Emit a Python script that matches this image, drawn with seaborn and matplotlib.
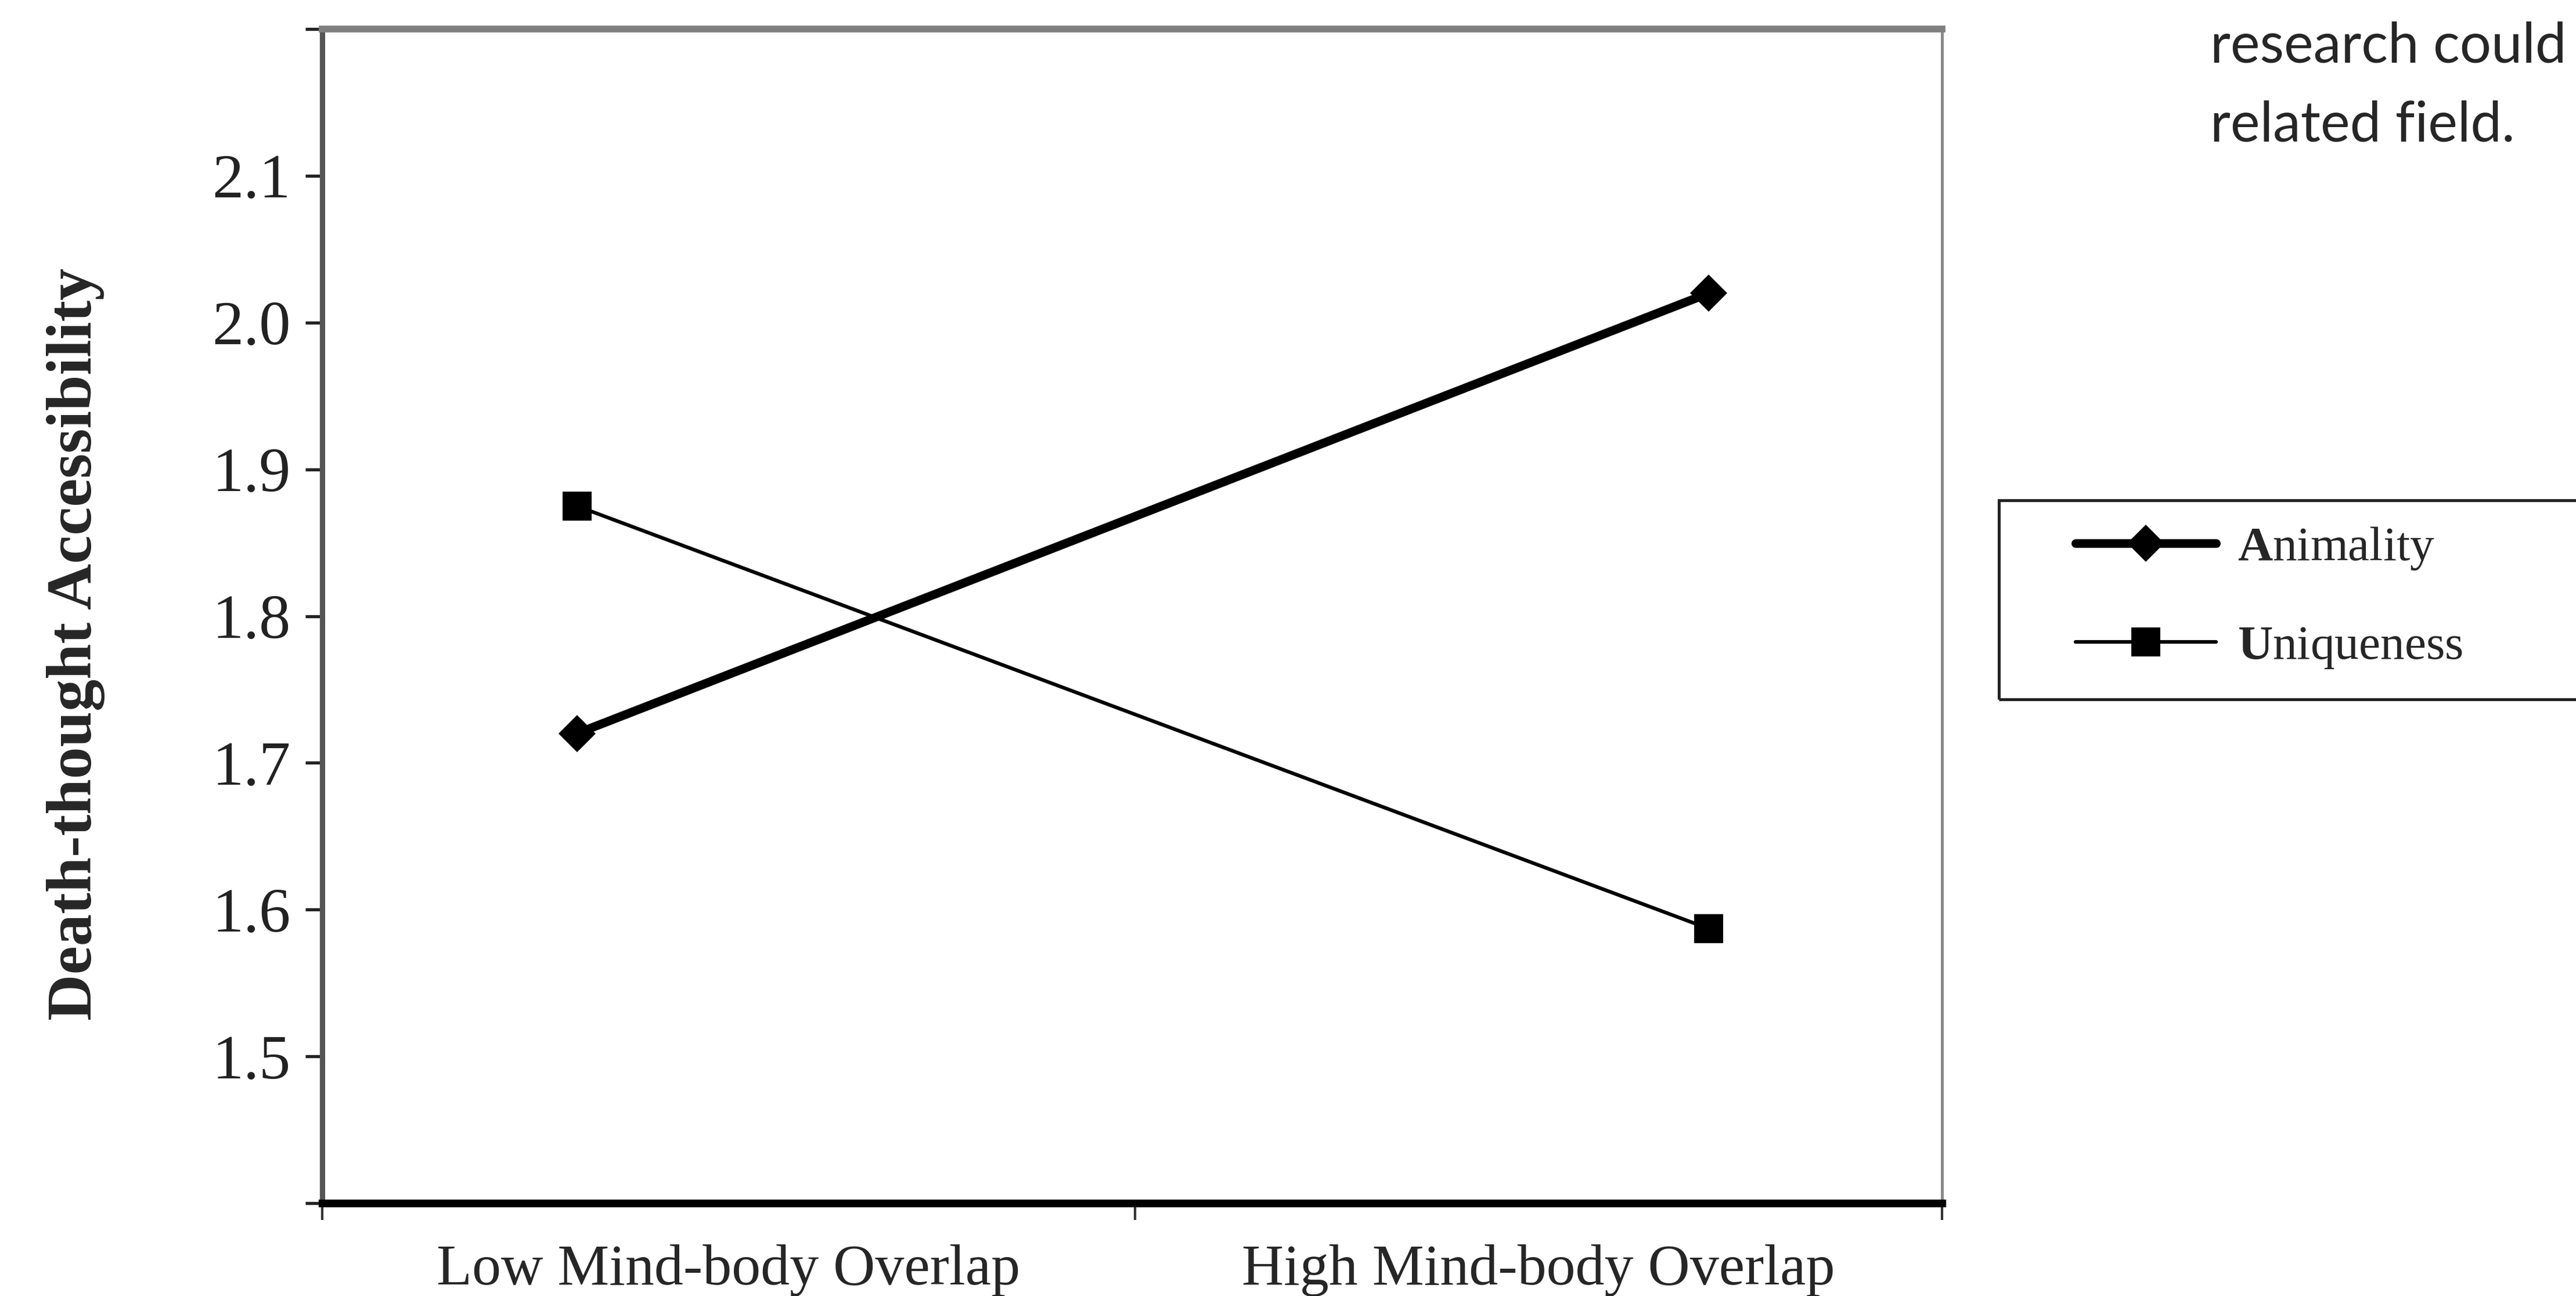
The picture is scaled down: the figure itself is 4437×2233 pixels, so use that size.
import numpy as np
import pandas as pd
import matplotlib
matplotlib.use("Agg")
import matplotlib.pyplot as plt
import matplotlib.patches as patches
import seaborn as sns

# values
conditions = ["Low Mind-body Overlap", "High Mind-body Overlap"]
animality = [1.72, 2.02]
uniqueness = [1.875, 1.587]
y_ticks = [1.4, 1.5, 1.6, 1.7, 1.8, 1.9, 2.0, 2.1, 2.2]
y_tick_labels = ["", "1.5", "1.6", "1.7", "1.8", "1.9", "2.0", "2.1", ""]
legend_labels = [r"$\mathbf{A}$nimality", r"$\mathbf{U}$niqueness"]
side_text = ["research could", "related field."]

df = pd.DataFrame({
    "pos": np.arange(len(conditions)),
    "Animality": animality,
    "Uniqueness": uniqueness,
})

sns.set_style("ticks")
plt.rcParams['font.family'] = ['Liberation Serif', 'DejaVu Serif']
plt.rcParams['mathtext.fontset'] = 'custom'
plt.rcParams['mathtext.rm'] = 'Liberation Serif'
plt.rcParams['mathtext.bf'] = 'Liberation Serif:bold'

W, H = 4437, 2233
fig = plt.figure(figsize=(W / 300, H / 300), dpi=300, facecolor='white')
ax = fig.add_axes([555 / W, 1 - 2073 / H, 2790 / W, 2023 / H])
ax.set_facecolor('white')

sns.lineplot(data=df, x="pos", y="Animality", ax=ax, color='black', lw=3.6,
             marker='D', ms=11, mec='black', mew=0, legend=False)
sns.lineplot(data=df, x="pos", y="Uniqueness", ax=ax, color='black', lw=1.5,
             marker='s', ms=12, mec='black', mew=0, legend=False)

# axis limits and ticks
ax.set_ylim(1.4, 2.2)
ax.set_yticks(y_ticks)
ax.set_yticklabels(y_tick_labels)
bounds = [-0.225, 0.493, 1.206]
ax.set_xlim(bounds[0], bounds[-1])
ax.set_xticks(bounds)
ax.set_xticklabels([])
ax.set_xticks([(bounds[i] + bounds[i + 1]) / 2 for i in range(2)], minor=True)
ax.set_xticklabels(conditions, minor=True)

ax.tick_params(axis='y', direction='out', length=7, width=1.3, pad=6,
               labelsize=26, colors='#222222')
ax.tick_params(axis='x', which='major', direction='out', length=7, width=1.0,
               colors='#333333')
ax.tick_params(axis='x', which='minor', length=0, pad=17, labelsize=24)

ax.set_xlabel("")
ax.set_ylabel("Death-thought Accessibility", fontsize=26.5, fontweight='bold', va='center')
ax.yaxis.set_label_coords(-0.152, 0.476)

# frame
ax.spines['left'].set_color('#555555')
ax.spines['left'].set_linewidth(2.2)
ax.spines['top'].set_color('#7f7f7f')
ax.spines['top'].set_linewidth(2.8)
ax.spines['right'].set_color('#8a8a8a')
ax.spines['right'].set_linewidth(1.2)
ax.spines['bottom'].set_color('black')
ax.spines['bottom'].set_linewidth(3.2)

# legend: box cut off at the right edge of the image
box = patches.Rectangle((3443 / W, 1 - 1205 / H), (W + 20 - 3443) / W, (1205 - 862) / H,
                        transform=fig.transFigure, fill=False, lw=1.2,
                        ec='#222222', clip_on=False)
fig.add_artist(box)
ax.legend(ax.lines[:2], legend_labels, frameon=False, loc='center left',
          bbox_to_anchor=(3575 / W, 1 - 1030 / H), bbox_transform=fig.transFigure,
          borderpad=0, borderaxespad=0, handlelength=2.9, handletextpad=0.45,
          labelspacing=1.1, fontsize=20)

# stray text from the surrounding page
fig.text(3807 / W, 1 - 108 / H, side_text[0], fontfamily='Lato', fontsize=23,
         va='baseline', ha='left')
fig.text(3807 / W, 1 - 243 / H, side_text[1], fontfamily='Lato', fontsize=23,
         va='baseline', ha='left')

fig.savefig("out.png", dpi=300, facecolor='white')
